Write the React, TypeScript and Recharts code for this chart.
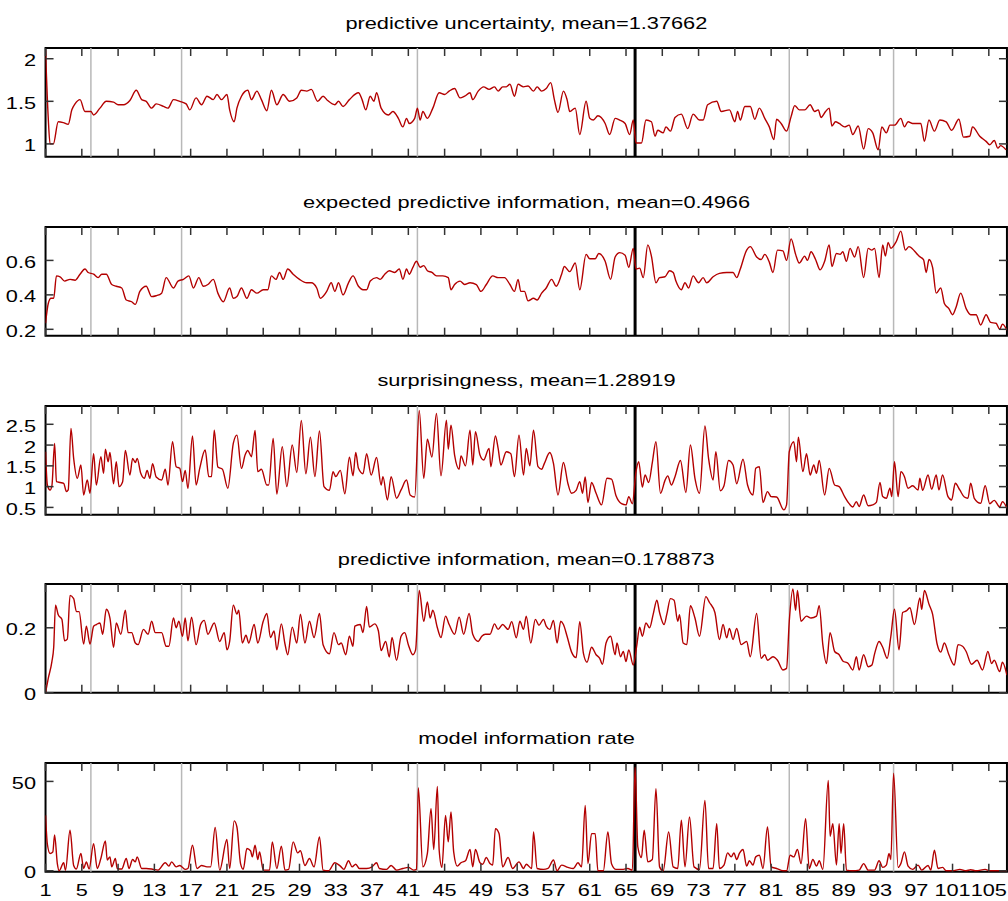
import { LineChart, Line, XAxis, YAxis, ReferenceLine, ReferenceArea } from 'recharts';

type Pt = [number, number];

const xTicks = [1, 5, 9, 13, 17, 21, 25, 29, 33, 37, 41, 45, 49, 53, 57, 61, 65, 69, 73, 77, 81, 85, 89, 93, 97, 101, 105];
const grayBeats = [6, 16, 42, 83, 94.5];
const blackBeat = 66;

const uncertainty: Pt[] = [
  [1, 2.1], [1.3, 1.3], [1.5, 1.0], [1.86, 1.0], [2.4, 1.26], [2.96, 1.25], [3.5, 1.23], [3.9, 1.4], [4.25, 1.47], [4.8, 1.52],
  [5.35, 1.38], [6, 1.38], [6.3, 1.34], [7, 1.42], [7.7, 1.5], [8.5, 1.49], [9, 1.46], [9.6, 1.46], [10.3, 1.51], [11, 1.63],
  [11.6, 1.52], [12.1, 1.5], [12.7, 1.42], [13.2, 1.47], [14, 1.44], [14.5, 1.42], [15.1, 1.52], [15.8, 1.5], [16.5, 1.47], [16.9, 1.4],
  [17.6, 1.54], [18.2, 1.46], [18.8, 1.56], [19.5, 1.52], [19.9, 1.58], [20.4, 1.52], [21, 1.58], [21.3, 1.4], [21.8, 1.26], [22.1, 1.42],
  [22.6, 1.56], [23.3, 1.63], [23.7, 1.52], [24.3, 1.62], [24.8, 1.52], [25.4, 1.39], [25.9, 1.63], [26.5, 1.46], [27.2, 1.58], [27.9, 1.5],
  [28.7, 1.54], [29.2, 1.63], [29.8, 1.62], [30.3, 1.64], [31, 1.5], [31.6, 1.56], [32.1, 1.51], [32.9, 1.46], [33.3, 1.5], [33.8, 1.44],
  [34.5, 1.52], [35.5, 1.6], [35.9, 1.52], [36.3, 1.4], [36.8, 1.56], [37.2, 1.5], [37.5, 1.6], [38, 1.42], [38.8, 1.34], [39.3, 1.38],
  [39.9, 1.3], [40.4, 1.2], [40.8, 1.3], [41.1, 1.24], [41.7, 1.3], [42, 1.42], [42.3, 1.28], [42.6, 1.38], [43.1, 1.3], [43.7, 1.42],
  [44.4, 1.6], [45, 1.58], [45.5, 1.62], [46.1, 1.65], [46.7, 1.54], [47.2, 1.56], [47.8, 1.6], [48.1, 1.52], [48.7, 1.62], [49.3, 1.67],
  [49.9, 1.64], [50.5, 1.67], [50.9, 1.62], [51.4, 1.67], [51.8, 1.67], [52.2, 1.7], [52.7, 1.56], [53.1, 1.7], [53.7, 1.67], [54.2, 1.68],
  [54.8, 1.62], [55.2, 1.67], [55.7, 1.62], [56.2, 1.65], [56.7, 1.72], [57.1, 1.52], [57.5, 1.37], [58.1, 1.62], [58.5, 1.52], [58.8, 1.38],
  [59.4, 1.42], [59.9, 1.11], [60.6, 1.5], [61, 1.3], [61.4, 1.28], [61.9, 1.33], [62.7, 1.24], [63.2, 1.11], [63.8, 1.3], [64.3, 1.28],
  [64.9, 1.24], [65.4, 1.11], [65.8, 1.28], [66.1, 1.01], [66.7, 1.01], [67.2, 1.28], [67.8, 1.26], [68.2, 1.09], [68.5, 1.16], [69.1, 1.13],
  [69.4, 1.2], [69.9, 1.15], [70.4, 1.31], [71.1, 1.35], [71.8, 1.18], [72.4, 1.35], [73.1, 1.28], [73.5, 1.28], [74, 1.46], [75, 1.5],
  [75.5, 1.38], [76.4, 1.4], [77, 1.26], [77.3, 1.38], [77.6, 1.28], [78.1, 1.44], [78.7, 1.44], [79.2, 1.29], [79.7, 1.42], [80.3, 1.3],
  [80.8, 1.2], [81.3, 1.05], [81.6, 1.29], [82.1, 1.24], [82.7, 1.15], [83.2, 1.32], [83.6, 1.45], [84.1, 1.4], [84.7, 1.4], [85.3, 1.46],
  [85.8, 1.38], [86.2, 1.4], [86.5, 1.31], [87, 1.38], [87.4, 1.42], [87.7, 1.21], [88.1, 1.26], [88.5, 1.24], [89.1, 1.2], [89.6, 1.22],
  [90, 1.11], [90.6, 1.21], [91.2, 0.94], [91.7, 1.18], [92.2, 1.13], [92.8, 0.93], [93.2, 1.2], [93.7, 1.13], [94.1, 1.22], [94.6, 1.22],
  [95.3, 1.3], [95.7, 1.2], [96.1, 1.26], [96.6, 1.24], [97.5, 1.24], [97.9, 1.03], [98.4, 1.28], [99, 1.15], [99.6, 1.28], [100.3, 1.26],
  [100.9, 1.16], [101.7, 1.29], [102.2, 1.08], [102.9, 1.09], [103.2, 1.2], [104, 1.09], [104.7, 1.03], [105.1, 0.99], [105.6, 1.04], [106, 0.95],
  [106.3, 0.98], [106.9, 0.93],
];

const expectedInfo: Pt[] = [
  [1, 0.235], [1.3, 0.35], [1.6, 0.38], [1.9, 0.38], [2.2, 0.51], [2.6, 0.505], [3.1, 0.48], [3.7, 0.49], [4.25, 0.485], [4.8, 0.52],
  [5.35, 0.55], [5.7, 0.53], [6.3, 0.52], [6.8, 0.5], [7.2, 0.52], [7.7, 0.52], [8.3, 0.46], [8.8, 0.45], [9.4, 0.44], [9.9, 0.37],
  [10.5, 0.36], [10.9, 0.345], [11.4, 0.42], [12.1, 0.45], [12.7, 0.39], [13.2, 0.395], [13.8, 0.41], [14.3, 0.5], [15.1, 0.44], [15.6, 0.48],
  [16.2, 0.49], [16.8, 0.51], [17.3, 0.44], [17.9, 0.5], [18.4, 0.45], [18.9, 0.46], [19.5, 0.49], [20, 0.41], [20.6, 0.36], [21.3, 0.44],
  [21.7, 0.38], [22.1, 0.39], [22.6, 0.44], [23.2, 0.38], [23.7, 0.43], [24.3, 0.41], [25, 0.43], [25.5, 0.43], [25.9, 0.51], [26.4, 0.49],
  [26.8, 0.53], [27.2, 0.49], [27.7, 0.55], [28.3, 0.52], [29, 0.49], [29.8, 0.47], [30.3, 0.47], [30.9, 0.44], [31.3, 0.38], [32, 0.42],
  [32.5, 0.47], [32.9, 0.42], [33.3, 0.47], [33.8, 0.4], [34.4, 0.47], [34.9, 0.51], [35.5, 0.45], [36, 0.43], [36.4, 0.43], [36.8, 0.48],
  [37.5, 0.5], [37.9, 0.49], [38.4, 0.52], [38.9, 0.54], [39.5, 0.53], [40, 0.55], [40.4, 0.49], [40.8, 0.55], [41.1, 0.52], [41.5, 0.56],
  [41.9, 0.595], [42.3, 0.56], [42.7, 0.57], [43.1, 0.54], [43.6, 0.53], [44.1, 0.51], [44.8, 0.51], [45.4, 0.5], [45.7, 0.43], [46.1, 0.46],
  [46.7, 0.48], [47.2, 0.46], [47.8, 0.47], [48.5, 0.46], [49, 0.42], [49.6, 0.46], [50.3, 0.51], [50.9, 0.5], [51.6, 0.5], [52.2, 0.46],
  [52.7, 0.42], [53.1, 0.49], [53.4, 0.42], [53.8, 0.42], [54.2, 0.365], [54.8, 0.38], [55.2, 0.37], [55.7, 0.41], [56.2, 0.44], [56.8, 0.49],
  [57.3, 0.45], [57.9, 0.52], [58.2, 0.565], [58.8, 0.535], [59.4, 0.585], [59.9, 0.43], [60.6, 0.635], [61, 0.61], [61.6, 0.61], [62, 0.64],
  [62.7, 0.595], [63.3, 0.49], [63.8, 0.62], [64.3, 0.645], [64.9, 0.63], [65.3, 0.56], [65.8, 0.67], [66.1, 0.55], [66.5, 0.555], [66.9, 0.5],
  [67.4, 0.69], [67.8, 0.625], [68.3, 0.47], [68.7, 0.5], [69.3, 0.505], [69.8, 0.54], [70.2, 0.53], [70.5, 0.48], [71.1, 0.43], [71.5, 0.47],
  [71.9, 0.44], [72.4, 0.51], [73, 0.47], [73.5, 0.5], [73.9, 0.47], [74.6, 0.505], [75.3, 0.525], [76.1, 0.53], [76.8, 0.53], [77.2, 0.5],
  [77.6, 0.55], [78.3, 0.66], [78.7, 0.68], [79.4, 0.62], [79.9, 0.605], [80.3, 0.635], [80.8, 0.59], [81.2, 0.53], [81.7, 0.66], [82.3, 0.655],
  [82.7, 0.6], [83.2, 0.725], [83.7, 0.635], [84.1, 0.585], [84.7, 0.625], [85, 0.6], [85.4, 0.65], [85.9, 0.605], [86.4, 0.545], [86.9, 0.595],
  [87.4, 0.69], [87.7, 0.565], [88.2, 0.64], [88.6, 0.635], [88.9, 0.65], [89.3, 0.595], [89.7, 0.67], [90.2, 0.62], [90.6, 0.68], [91.2, 0.5],
  [91.7, 0.67], [92.1, 0.66], [92.4, 0.67], [92.9, 0.5], [93.3, 0.69], [93.6, 0.625], [93.9, 0.705], [94.2, 0.67], [94.8, 0.71], [95.3, 0.77],
  [95.8, 0.66], [96.2, 0.68], [96.8, 0.655], [97.3, 0.625], [97.8, 0.605], [98.1, 0.53], [98.4, 0.605], [98.8, 0.56], [99.2, 0.41], [99.7, 0.44],
  [100.1, 0.35], [100.6, 0.32], [101, 0.285], [101.4, 0.33], [101.9, 0.41], [102.5, 0.32], [103, 0.285], [103.6, 0.285], [104.1, 0.225], [104.7, 0.285],
  [105.2, 0.24], [105.8, 0.235], [106.2, 0.2], [106.5, 0.23], [107, 0.195],
];

const surprisingness: Pt[] = [
  [1, 1.84], [1.2, 1.04], [1.5, 0.92], [1.7, 1.02], [2, 2.04], [2.2, 1.12], [2.6, 1.1], [3, 1.08], [3.3, 0.88], [3.5, 0.92],
  [3.8, 2.4], [4.1, 1.68], [4.5, 1.2], [4.9, 1.52], [5.2, 0.8], [5.6, 1.16], [5.9, 0.84], [6.3, 1.79], [6.6, 1.04], [7.1, 1.72],
  [7.4, 1.32], [7.6, 1.9], [7.9, 1.6], [8.1, 1.82], [8.5, 1.07], [8.8, 1.6], [9.1, 1.0], [9.5, 1.12], [9.8, 1.87], [10.3, 1.28],
  [10.6, 1.68], [10.9, 1.58], [11.1, 1.68], [11.5, 1.32], [11.9, 1.2], [12.2, 1.39], [12.5, 1.2], [12.8, 1.55], [13.2, 1.23], [13.8, 1.16],
  [14.2, 1.42], [14.5, 1.04], [15, 2.08], [15.4, 1.48], [15.8, 1.44], [16.1, 1.12], [16.4, 1.39], [16.7, 0.96], [17.2, 2.22], [17.6, 1.04],
  [18, 1.44], [18.6, 1.88], [19, 1.24], [19.3, 1.24], [19.6, 2.36], [20, 1.47], [20.5, 1.42], [21.1, 0.96], [21.7, 2.04], [22.1, 2.24],
  [22.6, 1.44], [23, 1.76], [23.3, 1.87], [23.7, 1.72], [24.1, 2.35], [24.4, 1.36], [24.8, 1.42], [25.4, 1.04], [25.6, 1.04], [26.1, 2.16],
  [26.5, 0.82], [27.1, 1.96], [27.6, 1.0], [28.2, 2.0], [28.7, 1.34], [29.2, 2.59], [29.7, 1.31], [30.2, 2.19], [30.7, 1.24], [31.2, 2.34],
  [31.7, 1.0], [32.3, 0.91], [32.7, 1.36], [33, 1.24], [33.5, 1.39], [34, 0.83], [34.5, 1.71], [34.9, 1.26], [35.2, 1.82], [35.5, 1.44],
  [36, 1.31], [36.4, 1.79], [36.9, 1.28], [37.5, 1.7], [38, 1.04], [38.2, 1.24], [38.7, 0.68], [39.1, 1.24], [39.7, 0.72], [40.2, 0.92],
  [40.8, 1.16], [41.2, 0.8], [41.7, 0.75], [42.2, 2.83], [42.7, 1.2], [43.1, 2.14], [43.6, 1.71], [44.1, 2.76], [44.6, 1.26], [45.2, 2.6],
  [45.4, 1.9], [45.7, 2.48], [46.1, 1.76], [46.6, 1.42], [46.8, 1.74], [47.3, 1.5], [47.8, 2.36], [48.1, 1.52], [48.4, 2.32], [48.9, 1.76],
  [49.3, 1.64], [49.9, 1.92], [50.1, 1.48], [50.6, 2.22], [50.9, 1.92], [51.2, 1.52], [51.8, 1.84], [52.3, 1.79], [52.7, 1.24], [53.2, 2.24],
  [53.7, 1.28], [54, 1.92], [54.4, 1.5], [54.8, 2.36], [55.3, 1.48], [55.7, 1.42], [56, 1.56], [56.6, 1.82], [57, 1.56], [57.5, 0.8],
  [58.1, 1.58], [58.6, 1.07], [59, 0.84], [59.5, 0.91], [59.9, 1.12], [60.2, 0.84], [60.5, 1.23], [60.8, 0.62], [61.2, 1.1], [61.7, 0.84],
  [62.3, 0.56], [62.9, 1.2], [63.4, 1.18], [63.9, 0.78], [64.5, 0.59], [65, 0.56], [65.3, 0.76], [65.7, 0.59], [66.1, 1.36], [66.4, 1.6],
  [66.8, 0.99], [67.1, 1.28], [67.5, 1.1], [67.9, 1.58], [68.3, 2.08], [68.8, 0.84], [69.3, 1.15], [69.6, 1.26], [70, 1.04], [70.4, 1.24],
  [71, 1.63], [71.6, 0.86], [72.1, 2.0], [72.6, 1.2], [73.1, 0.84], [73.7, 2.46], [74.1, 1.68], [74.6, 1.16], [74.9, 1.84], [75.4, 0.9],
  [75.8, 1.02], [76.3, 1.63], [76.8, 1.52], [77.2, 1.07], [77.9, 1.66], [78.4, 1.04], [79, 0.8], [79.3, 1.44], [79.7, 1.48], [80.1, 0.62],
  [80.6, 0.88], [81, 0.76], [81.6, 0.75], [82.4, 0.44], [82.7, 0.56], [83, 1.84], [83.5, 2.08], [83.8, 1.6], [84, 2.19], [84.5, 1.36],
  [84.9, 1.79], [85.3, 1.28], [85.7, 1.52], [86, 1.32], [86.3, 1.63], [86.9, 0.8], [87.4, 1.44], [88, 1.04], [88.5, 1.0], [89.1, 0.76],
  [89.6, 0.59], [90, 0.51], [90.4, 0.64], [90.7, 0.52], [91.2, 0.8], [91.7, 0.54], [92.2, 0.56], [92.6, 0.62], [93, 1.1], [93.3, 0.76],
  [93.7, 0.72], [94.1, 0.96], [94.3, 0.76], [94.6, 1.6], [95, 0.76], [95.3, 1.36], [95.7, 1.24], [96.1, 0.96], [96.6, 1.02], [97.2, 0.92],
  [97.4, 1.2], [97.7, 0.91], [98.3, 1.28], [98.7, 0.94], [99.2, 1.28], [99.5, 0.92], [99.9, 1.28], [100.5, 0.76], [100.9, 0.68], [101.3, 1.08],
  [101.8, 0.92], [102.3, 0.75], [102.7, 0.72], [103, 1.08], [103.4, 0.72], [104.1, 0.6], [104.6, 1.02], [105.1, 0.59], [105.6, 0.67], [106.2, 0.51],
  [106.5, 0.64], [107, 0.48],
];

const predictiveInfo: Pt[] = [
  [1, 0], [1.3, 0.044], [1.7, 0.096], [1.9, 0.14], [2.1, 0.27], [2.4, 0.24], [2.8, 0.226], [3.1, 0.16], [3.4, 0.165], [3.7, 0.3],
  [4.1, 0.29], [4.4, 0.25], [4.7, 0.25], [5.2, 0.15], [5.5, 0.205], [5.9, 0.15], [6.3, 0.205], [6.6, 0.21], [7, 0.215], [7.3, 0.18],
  [7.7, 0.257], [8.1, 0.23], [8.5, 0.14], [8.8, 0.215], [9.3, 0.18], [9.8, 0.254], [10.1, 0.185], [10.5, 0.185], [10.9, 0.153], [11.2, 0.148],
  [11.8, 0.195], [12.3, 0.18], [12.7, 0.22], [13.1, 0.185], [13.8, 0.185], [14.3, 0.143], [14.6, 0.143], [15.1, 0.23], [15.4, 0.2], [15.7, 0.22],
  [16.1, 0.174], [16.4, 0.23], [16.7, 0.16], [17.1, 0.233], [17.6, 0.148], [18.1, 0.21], [18.5, 0.223], [18.9, 0.18], [19.6, 0.215], [20.2, 0.158],
  [20.7, 0.185], [21, 0.132], [21.3, 0.158], [21.7, 0.27], [22.1, 0.242], [22.3, 0.254], [22.7, 0.153], [23.1, 0.177], [23.4, 0.153], [24, 0.21],
  [24.4, 0.153], [25, 0.22], [25.4, 0.244], [25.8, 0.17], [26.2, 0.19], [26.5, 0.132], [27, 0.212], [27.4, 0.15], [27.7, 0.117], [28.2, 0.202],
  [28.7, 0.153], [29.1, 0.242], [29.6, 0.153], [30.1, 0.22], [30.6, 0.17], [31.2, 0.244], [31.6, 0.148], [32.3, 0.12], [32.8, 0.185], [33.3, 0.148],
  [33.6, 0.153], [34.1, 0.117], [34.5, 0.174], [34.9, 0.143], [35.1, 0.205], [35.7, 0.21], [36, 0.185], [36.4, 0.266], [36.7, 0.202], [37.3, 0.212],
  [37.7, 0.19], [38, 0.13], [38.5, 0.158], [38.9, 0.11], [39.2, 0.17], [39.7, 0.1], [40.2, 0.174], [40.6, 0.185], [41, 0.148], [41.5, 0.117],
  [41.8, 0.132], [42.2, 0.315], [42.7, 0.22], [43.1, 0.28], [43.4, 0.23], [43.7, 0.254], [44.2, 0.2], [44.6, 0.17], [45.1, 0.236], [45.5, 0.21],
  [46.1, 0.18], [46.6, 0.233], [47.1, 0.18], [47.7, 0.244], [48.1, 0.18], [48.7, 0.158], [49.1, 0.174], [49.5, 0.18], [50, 0.18], [50.5, 0.212],
  [50.9, 0.195], [51.4, 0.21], [52, 0.195], [52.4, 0.219], [52.9, 0.169], [53.3, 0.22], [53.7, 0.195], [54, 0.236], [54.5, 0.153], [55, 0.226],
  [55.4, 0.208], [55.9, 0.226], [56.2, 0.205], [56.6, 0.195], [57, 0.223], [57.4, 0.153], [57.8, 0.22], [58.1, 0.21], [58.5, 0.174], [59, 0.125],
  [59.5, 0.108], [59.9, 0.219], [60.3, 0.122], [60.7, 0.094], [61.2, 0.14], [61.7, 0.117], [62.1, 0.106], [62.4, 0.0875], [62.8, 0.153], [63.3, 0.174],
  [63.8, 0.117], [64, 0.153], [64.4, 0.111], [64.7, 0.127], [65, 0.096], [65.3, 0.132], [65.8, 0.085], [66.2, 0.148], [66.5, 0.202], [66.8, 0.174],
  [67.2, 0.215], [67.6, 0.2], [68, 0.242], [68.4, 0.285], [68.7, 0.247], [69.2, 0.21], [69.5, 0.242], [69.9, 0.29], [70.3, 0.285], [70.7, 0.22],
  [70.9, 0.24], [71.3, 0.153], [71.7, 0.148], [72.1, 0.268], [72.6, 0.23], [73.1, 0.174], [73.8, 0.296], [74.2, 0.278], [74.8, 0.247], [75.3, 0.164],
  [75.7, 0.21], [76.1, 0.169], [76.4, 0.198], [76.8, 0.164], [77.2, 0.198], [77.7, 0.148], [78.3, 0.158], [78.7, 0.111], [79.4, 0.244], [79.9, 0.106],
  [80.3, 0.117], [80.6, 0.1], [81.2, 0.111], [81.7, 0.1], [82.3, 0.07], [82.7, 0.075], [83, 0.22], [83.4, 0.32], [83.7, 0.254], [83.9, 0.315],
  [84.3, 0.22], [84.9, 0.236], [85.4, 0.23], [86, 0.236], [86.3, 0.268], [86.7, 0.148], [87.1, 0.09], [87.5, 0.185], [88, 0.127], [88.5, 0.117],
  [88.9, 0.098], [89.5, 0.09], [90, 0.07], [90.4, 0.111], [90.7, 0.07], [91.2, 0.117], [91.7, 0.08], [92.1, 0.085], [92.4, 0.119], [92.9, 0.158],
  [93.3, 0.14], [93.8, 0.106], [94.2, 0.174], [94.6, 0.257], [95.1, 0.132], [95.5, 0.247], [95.9, 0.252], [96.3, 0.262], [96.8, 0.21], [97.4, 0.292],
  [97.6, 0.257], [97.9, 0.315], [98.4, 0.273], [98.8, 0.242], [99.3, 0.15], [99.7, 0.125], [100.1, 0.153], [100.6, 0.117], [101.2, 0.085], [101.6, 0.148],
  [102.1, 0.143], [102.5, 0.127], [103.1, 0.0875], [103.7, 0.1], [104.3, 0.07], [104.9, 0.127], [105.3, 0.09], [105.6, 0.1], [106.2, 0.065], [106.5, 0.094],
  [107, 0.054],
];

const infoRate: Pt[] = [
  [1, 31], [1.2, 15], [1.5, 9.7], [1.8, 10.5], [2, 20], [2.3, 4], [2.5, 0], [3, 4.5], [3.2, 0.3], [3.7, 22.7],
  [4.1, 3], [4.4, 1], [4.9, 9.7], [5.2, 1.3], [5.5, 5], [5.8, 1], [6.3, 15.2], [6.7, 1.3], [7.1, 6.9], [7.6, 16.7],
  [7.8, 6], [8.1, 7.8], [8.3, 2.2], [8.7, 6.9], [8.9, 1.3], [9.4, 1], [9.9, 6.9], [10.2, 1.3], [10.6, 6.3], [10.9, 5],
  [11.1, 7.8], [11.6, 1.3], [12.1, 1.3], [12.9, 0.8], [13.4, 0.4], [14.2, 4.5], [14.6, 2.6], [14.9, 5], [15.4, 2.2], [15.8, 3],
  [16.4, 0.8], [16.7, 1.3], [17.2, 14.3], [17.7, 1.3], [18.2, 3], [18.8, 2.2], [19.2, 2.2], [19.7, 24.2], [20.2, 0.4], [21, 17.5],
  [21.3, 1.3], [21.8, 27.9], [22.1, 24.5], [22.5, 4], [22.8, 0.8], [23.2, 12.5], [23.6, 11.2], [23.8, 7.8], [24.1, 14.3], [24.4, 6.3],
  [24.6, 10.6], [25, 0.4], [25.7, 0.4], [26, 16.2], [26.5, 1.3], [27, 13.8], [27.4, 0.4], [27.8, 0.8], [28.3, 16.2], [28.8, 10],
  [29.1, 11.2], [29.6, 3], [30.1, 6.9], [30.6, 2.2], [31.2, 19], [31.6, 0.4], [32.2, 0], [32.9, 4.5], [33.5, 2.6], [33.9, 0.8],
  [34.4, 5.6], [34.8, 2.2], [35.2, 3.7], [35.6, 1.3], [36.4, 1.3], [37, 2.2], [37.5, 4.5], [37.8, 1.3], [38.6, 0.8], [39.1, 3],
  [39.7, 0.4], [40.4, 1.3], [41, 1.9], [41.6, 0.4], [41.9, 0.8], [42.1, 46.5], [42.6, 2.2], [43.1, 9.7], [43.5, 34.8], [43.8, 11.9],
  [44.2, 47.2], [44.4, 11.5], [44.7, 1.9], [45.1, 31], [45.4, 16.2], [45.7, 32.9], [46, 10.6], [46.4, 2.6], [46.8, 4.5], [47.3, 5.6],
  [47.8, 11.9], [48.1, 2.2], [48.4, 11.9], [48.9, 4.5], [49.2, 3.7], [49.6, 7.4], [50, 4.1], [50.3, 3.2], [50.6, 23.6], [51, 20.8],
  [51.4, 2.2], [52, 7.4], [52.5, 1.3], [53.2, 5], [53.7, 1.3], [54, 3.7], [54.6, 1.3], [54.8, 21.7], [55.2, 1.3], [55.9, 0.8],
  [56.4, 1.3], [57, 6], [57.4, 0], [57.9, 3.2], [58.6, 1.9], [59.2, 1.3], [59.7, 4.5], [60.1, 2.2], [60.5, 36.6], [60.8, 4],
  [61.2, 20.8], [61.6, 20.8], [61.9, 0], [62.5, 0], [63, 21.7], [63.4, 4], [63.9, 0.8], [64.7, 0.8], [65.2, 1.3], [65.7, 0.4],
  [66, 58], [66.3, 13.4], [66.7, 7.4], [67, 22.7], [67.4, 5], [67.9, 6.3], [68.3, 45.9], [68.7, 2.2], [69.1, 0], [69.7, 21.7],
  [70.2, 2.2], [70.7, 1.3], [71.1, 28.3], [71.5, 2.2], [72, 30.1], [72.5, 2.2], [73.1, 0.8], [73.7, 39.4], [74.1, 1.3], [74.6, 1.3],
  [75, 26.4], [75.3, 1.3], [75.8, 3.2], [76.2, 10], [76.6, 7.8], [76.9, 10], [77.2, 6.3], [77.5, 9.7], [77.9, 11.9], [78.3, 2.6],
  [78.6, 5.6], [79, 3.2], [79.3, 7.8], [79.7, 8.7], [80.1, 1.3], [80.6, 24.5], [81, 2.2], [81.6, 1.3], [82.3, 0], [82.7, 0],
  [83.1, 8.7], [83.5, 7.8], [83.9, 11.9], [84.3, 4], [84.8, 29.2], [85.2, 1.3], [85.6, 6.3], [86, 2.6], [86.3, 5.6], [86.7, 0.8],
  [87.3, 50.6], [87.5, 19.3], [87.8, 26.4], [88.2, 3.2], [88.5, 26.4], [88.7, 9.7], [89, 26.4], [89.3, 0.4], [90, 0], [90.7, 0.4],
  [91.2, 4], [91.7, 0.4], [92.4, 0.4], [92.9, 5.6], [93.3, 1.9], [93.7, 3.2], [94, 9.7], [94.2, 6.3], [94.5, 54.6], [95, 1.9],
  [95.3, 4], [95.7, 10.6], [96.1, 2.6], [96.6, 0.8], [97.2, 3.2], [97.6, 0.4], [98.3, 3], [98.6, 0.4], [99, 11.5], [99.4, 1.3],
  [99.9, 1.9], [100.3, 0], [101, 0], [101.8, 0.8], [102.5, 0], [103, 0.6], [103.6, 0], [104.6, 0.8], [105.1, 0], [107, 0],
];

const FONT = '"Liberation Sans", Arial, Helvetica, sans-serif';
const FONT_SIZE = 17;
const STRETCH = 1.28;
const PLOT_LEFT = 45.5;
const PLOT_RIGHT = 1007;
const PLOT_W = PLOT_RIGHT - PLOT_LEFT;
const PLOT_H = 108.7;
const TICK_LEN = 8;
const RED = '#b30000';

interface PanelDef {
  title: string;
  points: Pt[];
  domain: [number, number];
  yTicks: number[];
  top: number;
  showX: boolean;
}

const panels: PanelDef[] = [
  { title: 'predictive uncertainty, mean=1.37662', points: uncertainty, domain: [0.85, 2.126], yTicks: [1, 1.5, 2], top: 48.3, showX: false },
  { title: 'expected predictive information, mean=0.4966', points: expectedInfo, domain: [0.163, 0.794], yTicks: [0.2, 0.4, 0.6], top: 227, showX: false },
  { title: 'surprisingness, mean=1.28919', points: surprisingness, domain: [0.325, 2.94], yTicks: [0.5, 1, 1.5, 2, 2.5], top: 405.5, showX: false },
  { title: 'predictive information, mean=0.178873', points: predictiveInfo, domain: [0, 0.335], yTicks: [0, 0.2], top: 584.3, showX: false },
  { title: 'model information rate', points: infoRate, domain: [-0.5, 60.3], yTicks: [0, 50], top: 763.3, showX: true },
];

function XTick(props: any) {
  const { x, y, payload, showLabel } = props;
  const top = y - PLOT_H;
  return (
    <g>
      <line x1={x} x2={x} y1={y} y2={y - TICK_LEN} stroke="#333" strokeWidth={1.5} />
      <line x1={x} x2={x} y1={top} y2={top + TICK_LEN} stroke="#333" strokeWidth={1.5} />
      {showLabel && (
        <text
          x={0}
          y={0}
          textAnchor="middle"
          fill="#000"
          fontFamily={FONT}
          fontSize={FONT_SIZE}
          transform={`translate(${x},${y + 24.5}) scale(${STRETCH},1)`}
        >
          {payload.value}
        </text>
      )}
    </g>
  );
}

function YTick(props: any) {
  const { x, y, payload } = props;
  const right = x + PLOT_W;
  return (
    <g>
      <line x1={x} x2={x + TICK_LEN} y1={y} y2={y} stroke="#333" strokeWidth={1.5} />
      <line x1={right} x2={right - TICK_LEN} y1={y} y2={y} stroke="#333" strokeWidth={1.5} />
      <text
        x={0}
        y={0}
        textAnchor="end"
        fill="#000"
        fontFamily={FONT}
        fontSize={FONT_SIZE}
        transform={`translate(${x - 9.5},${y + 7.5}) scale(${STRETCH},1)`}
      >
        {payload.value}
      </text>
    </g>
  );
}

function Panel({ def }: { def: PanelDef }) {
  const mTop = 6;
  const mBottom = def.showX ? 34 : 16;
  const height = mTop + PLOT_H + 1 + mBottom;
  const data = def.points.map(([x, v]) => ({ x, v }));
  return (
    <>
      <div
        style={{
          position: 'absolute',
          left: PLOT_LEFT,
          width: PLOT_W,
          top: def.top - 34.5,
          height: 20,
          lineHeight: '20px',
          textAlign: 'center',
          fontFamily: FONT,
          fontSize: FONT_SIZE,
          color: '#000',
          whiteSpace: 'nowrap',
        }}
      >
        <span style={{ display: 'inline-block', transform: `scaleX(${STRETCH})` }}>{def.title}</span>
      </div>
      <div style={{ position: 'absolute', left: 0, top: def.top - mTop }}>
        <LineChart width={1008} height={height} margin={{ top: mTop, right: 1008 - PLOT_RIGHT, bottom: mBottom, left: 0 }}>
          <XAxis
            dataKey="x"
            type="number"
            domain={[1, 107]}
            allowDataOverflow
            ticks={xTicks}
            interval={0}
            height={1}
            tickSize={0}
            tickMargin={0}
            tickLine={false}
            axisLine={false}
            tick={(p: any) => <XTick {...p} showLabel={def.showX} />}
          />
          <YAxis
            type="number"
            domain={def.domain}
            allowDataOverflow
            ticks={def.yTicks}
            interval={0}
            width={PLOT_LEFT}
            tickSize={0}
            tickMargin={0}
            tickLine={false}
            axisLine={false}
            tick={(p: any) => <YTick {...p} />}
          />
          {grayBeats.map((b) => (
            <ReferenceLine key={b} x={b} stroke="#b8b8b8" strokeWidth={1.5} />
          ))}
          <ReferenceLine x={blackBeat} stroke="#000" strokeWidth={3} />
          <Line
            data={data}
            dataKey="v"
            type="monotone"
            stroke={RED}
            strokeWidth={1.4}
            dot={false}
            activeDot={false}
            isAnimationActive={false}
          />
          <ReferenceArea
            x1={1}
            x2={107}
            y1={def.domain[0]}
            y2={def.domain[1]}
            fill="none"
            fillOpacity={0}
            stroke="#000"
            strokeWidth={2}
          />
        </LineChart>
      </div>
    </>
  );
}

export default function App() {
  return (
    <div style={{ position: 'absolute', left: 0, top: 0, width: 1008, height: 901, background: '#fff' }}>
      {panels.map((p) => (
        <Panel key={p.title} def={p} />
      ))}
    </div>
  );
}
